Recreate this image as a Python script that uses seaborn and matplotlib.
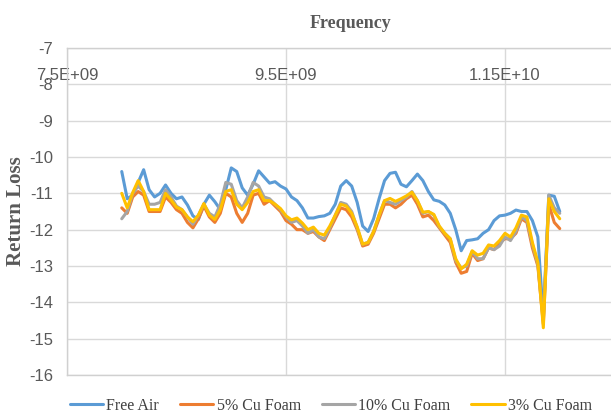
import matplotlib
matplotlib.use("Agg")
import matplotlib.pyplot as plt
import matplotlib.font_manager as fm
from matplotlib.lines import Line2D
from matplotlib.ticker import FuncFormatter
import pandas as pd
import seaborn as sns

# frequency sampling (GHz)
freq_ghz = [8.00, 8.05, 8.10, 8.15, 8.20, 8.25, 8.30, 8.35, 8.40, 8.45,
            8.50, 8.55, 8.60, 8.65, 8.70, 8.75, 8.80, 8.85, 8.90, 8.95,
            9.00, 9.05, 9.10, 9.15, 9.20, 9.25, 9.30, 9.35, 9.40, 9.45,
            9.50, 9.55, 9.60, 9.65, 9.70, 9.75, 9.80, 9.85, 9.90, 9.95,
            10.00, 10.05, 10.10, 10.15, 10.20, 10.25, 10.30, 10.35, 10.40, 10.45,
            10.50, 10.55, 10.60, 10.65, 10.70, 10.75, 10.80, 10.85, 10.90, 10.95,
            11.00, 11.05, 11.10, 11.15, 11.20, 11.25, 11.30, 11.35, 11.40, 11.45,
            11.50, 11.55, 11.60, 11.65, 11.70, 11.75, 11.80, 11.85, 11.90, 11.95,
            12.00]

free_air = [-10.40, -11.15, -11.05, -10.70, -10.35, -10.90, -11.10, -11.00, -10.77, -11.00,
            -11.15, -11.10, -11.32, -11.62, -11.72, -11.30, -11.05, -11.23, -11.45, -10.90,
            -10.30, -10.40, -10.85, -11.05, -10.75, -10.38, -10.55, -10.72, -10.68, -10.80,
            -10.88, -11.10, -11.20, -11.40, -11.68, -11.68, -11.64, -11.62, -11.55, -11.30,
            -10.80, -10.65, -10.80, -11.25, -11.90, -12.05, -11.70, -11.15, -10.65, -10.45,
            -10.42, -10.75, -10.82, -10.65, -10.47, -10.65, -10.95, -11.18, -11.22, -11.32,
            -11.55, -12.00, -12.58, -12.30, -12.28, -12.25, -12.10, -12.00, -11.75, -11.62,
            -11.60, -11.55, -11.46, -11.50, -11.50, -11.75, -12.20, -14.40, -11.05, -11.08,
            -11.50]

cu5 = [-11.40, -11.55, -11.10, -10.95, -11.05, -11.50, -11.50, -11.50, -11.10, -11.25,
       -11.45, -11.55, -11.80, -11.95, -11.70, -11.35, -11.65, -11.80, -11.55, -11.00,
       -11.10, -11.55, -11.80, -11.55, -11.05, -11.00, -11.30, -11.20, -11.35, -11.50,
       -11.75, -11.85, -12.00, -12.00, -12.10, -12.05, -12.20, -12.30, -12.00, -11.70,
       -11.40, -11.45, -11.65, -12.00, -12.45, -12.40, -12.10, -11.70, -11.30, -11.30,
       -11.40, -11.30, -11.15, -11.05, -11.30, -11.65, -11.60, -11.75, -11.95, -12.15,
       -12.35, -12.90, -13.20, -13.15, -12.65, -12.85, -12.80, -12.50, -12.55, -12.35,
       -12.25, -12.25, -12.10, -11.70, -11.80, -12.50, -13.00, -14.60, -11.30, -11.80,
       -11.97]

cu10 = [-11.70, -11.50, -11.00, -10.80, -10.95, -11.30, -11.30, -11.25, -10.90, -11.10,
        -11.35, -11.45, -11.65, -11.85, -11.60, -11.30, -11.55, -11.65, -11.30, -10.70,
        -10.75, -11.20, -11.40, -11.10, -10.70, -10.80, -11.10, -11.15, -11.30, -11.45,
        -11.65, -11.80, -11.75, -11.90, -12.10, -12.00, -12.20, -12.25, -11.95, -11.60,
        -11.25, -11.30, -11.50, -11.95, -12.40, -12.35, -12.05, -11.60, -11.20, -11.25,
        -11.30, -11.20, -11.10, -10.95, -11.20, -11.55, -11.50, -11.60, -11.92, -12.10,
        -12.25, -12.85, -13.05, -13.00, -12.60, -12.80, -12.80, -12.50, -12.55, -12.45,
        -12.20, -12.30, -12.05, -11.65, -11.75, -12.40, -12.95, -14.50, -11.05, -11.40,
        -11.55]

cu3 = [-11.00, -11.40, -10.98, -10.65, -10.95, -11.45, -11.45, -11.45, -11.00, -11.18,
       -11.38, -11.45, -11.65, -11.78, -11.60, -11.28, -11.60, -11.72, -11.45, -10.95,
       -10.90, -11.30, -11.45, -11.25, -10.95, -10.90, -11.20, -11.20, -11.30, -11.42,
       -11.62, -11.73, -11.68, -11.82, -12.00, -11.93, -12.10, -12.15, -11.90, -11.60,
       -11.30, -11.35, -11.55, -11.92, -12.40, -12.35, -12.05, -11.60, -11.20, -11.14,
       -11.22, -11.15, -11.07, -10.97, -11.20, -11.52, -11.50, -11.58, -11.90, -12.10,
       -12.25, -12.80, -13.08, -12.95, -12.58, -12.70, -12.65, -12.42, -12.45, -12.30,
       -12.10, -12.20, -11.95, -11.60, -11.65, -12.35, -12.90, -14.70, -11.15, -11.50,
       -11.70]

series_names = ["Free Air", "5% Cu Foam", "10% Cu Foam", "3% Cu Foam"]
colors = ["#5B9BD5", "#ED7D31", "#A5A5A5", "#FFC000"]
x_ticks = [7.5e9, 9.5e9, 1.15e10]
y_ticks = [-16, -15, -14, -13, -12, -11, -10, -9, -8, -7]

sns.set_theme(style="white")
installed = {f.name for f in fm.fontManager.ttflist}
tick_font = "Liberation Sans Narrow" if "Liberation Sans Narrow" in installed else "Liberation Sans"
plt.rcParams["font.family"] = [tick_font, "DejaVu Sans"]
plt.rcParams["axes.unicode_minus"] = False

rows = []
for name, vals in zip(series_names, [free_air, cu5, cu10, cu3]):
    for f, v in zip(freq_ghz, vals):
        rows.append({"Frequency": f * 1e9, "Return Loss": v, "Series": name})
df = pd.DataFrame(rows)

W, H = 611, 416
fig = plt.figure(figsize=(W / 100, H / 100), dpi=100)
# plot area continues past the right edge (the reference is cropped)
ax = fig.add_axes([67 / W, 1 - 375 / H, (724 - 67) / W, (375 - 48) / H])

sns.lineplot(data=df, x="Frequency", y="Return Loss", hue="Series",
             hue_order=series_names, palette=colors, linewidth=2.2,
             sort=False, estimator=None, legend=False, ax=ax)

ax.set_xlim(7.5e9, 1.35e10)
ax.set_ylim(-16, -7)
ax.set_xticks(x_ticks)
ax.set_yticks(y_ticks)
ax.xaxis.set_major_formatter(FuncFormatter(lambda v, p: "{:.3G}".format(v)))
ax.xaxis.tick_top()
ax.set_xlabel("")
ax.set_ylabel("")

ax.grid(True, color="#D9D9D9", linewidth=1.0)
for side in ["left", "top", "bottom"]:
    ax.spines[side].set_color("#D0D0D0")
    ax.spines[side].set_linewidth(1.0)
ax.spines["right"].set_visible(False)

ax.tick_params(axis="y", length=0, pad=10, labelsize=12, labelcolor="#595959")
ax.tick_params(axis="x", length=0, pad=-25, labelsize=12, labelcolor="#595959")

fig.text(351 / W, 1 - 23 / H, "Frequency", ha="center", va="center",
         family=["Liberation Serif", "DejaVu Serif"], weight="bold", size=13, color="#595959")
fig.text(16 / W, 1 - 211 / H, "Return Loss", ha="center", va="center", rotation=90,
         family=["Liberation Serif", "DejaVu Serif"], weight="bold", size=15, color="#595959")

handles = [Line2D([0], [0], color=c, lw=2.2) for c in colors]
leg = fig.legend(handles, series_names, loc="center", bbox_to_anchor=(331 / W, 1 - 406 / H),
                 ncol=4, frameon=False, handlelength=2.1, handletextpad=0.2,
                 columnspacing=1.3,
                 prop=fm.FontProperties(family=["Liberation Serif", "DejaVu Serif"], size=11.5))
for t in leg.get_texts():
    t.set_color("#404040")

fig.savefig("out.png", dpi=100)
